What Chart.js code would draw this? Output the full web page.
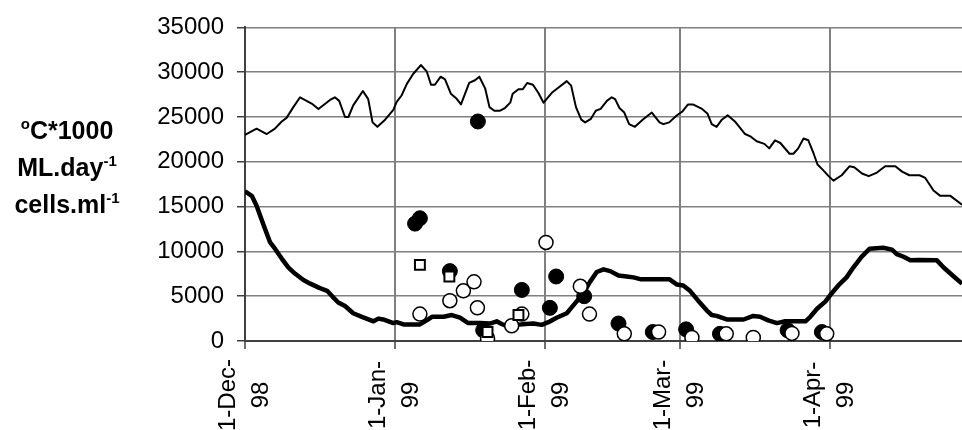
<!DOCTYPE html>
<html>
<head>
<meta charset="utf-8">
<script src="https://cdn.jsdelivr.net/npm/chart.js@4.4.0/dist/chart.umd.min.js"></script>
<style>
  body { margin: 0; background: #fff; }
  #wrap { width: 962px; height: 430px; }
</style>
</head>
<body>
<div id="wrap"><canvas id="chart" width="962" height="430"></canvas></div>
<script>
// x values are days counted from 1-Dec-98
const tickDays = [0, 31, 62, 90, 121];
const tickLabels = [['1-Dec-', '98'], ['1-Jan-', '99'], ['1-Feb-', '99'], ['1-Mar-', '99'], ['1-Apr-', '99']];
const xEnd = 148.4;

// temperature (degC*1000)
const tempDays = [0, 2.4, 4.5, 6.2, 7.6, 8.6, 10.0, 11.4, 13.8, 15.2,
  17.6, 18.6, 19.5, 20.7, 21.4, 22.4, 24.4, 25.5, 26.4, 27.4,
  29.0, 30.7, 31.4, 32.4, 33.5, 34.8, 36.4, 37.6, 38.5, 39.3,
  40.5, 41.4, 42.6, 43.7, 44.7, 46.4, 47.6, 48.5, 49.7, 50.6,
  51.6, 52.8, 53.8, 54.9, 55.4, 56.6, 57.5, 58.4, 59.6, 60.7,
  61.8, 63.5, 64.7, 66.6, 67.5, 68.5, 69.6, 70.4, 71.6, 72.6,
  73.6, 74.9, 75.9, 76.6, 77.5, 78.5, 79.5, 80.7, 82.3, 84.2,
  85.8, 86.6, 87.8, 89.4, 90.5, 91.7, 92.7, 94.6, 95.7, 96.6,
  97.6, 98.7, 99.9, 101.4, 103.5, 104.7, 105.9, 107.5, 108.5, 109.7,
  110.8, 112.7, 113.5, 114.5, 115.6, 116.6, 117.7, 118.5, 119.6, 120.8,
  121.8, 123.5, 125.1, 126.1, 127.7, 129.1, 130.8, 132.5, 134.6, 136.0,
  137.5, 139.6, 140.8, 142.5, 143.9, 146.0, 148.4];
const tempValues = [23000, 23700, 23100, 23700, 24500, 24900, 26100, 27200, 26500, 25900,
  26900, 27200, 26800, 25000, 25000, 26300, 27900, 27000, 24400, 23900,
  24700, 25800, 26700, 27400, 28700, 29800, 30800, 30100, 28600, 28600,
  29500, 29200, 27600, 27100, 26400, 28800, 29100, 29500, 28200, 26100,
  25700, 25700, 26000, 26600, 27600, 28100, 28100, 28800, 28600, 27700,
  26600, 27700, 28200, 29000, 28500, 26100, 24700, 24400, 24800, 25700,
  25900, 26800, 27200, 27000, 26000, 25500, 24200, 23900, 24700, 25500,
  24400, 24200, 24400, 25200, 25600, 26400, 26400, 25900, 25400, 24200,
  23900, 24700, 25200, 24500, 23100, 22800, 22300, 22000, 21500, 22400,
  22100, 20900, 20900, 21500, 22600, 22400, 20900, 19700, 19100, 18400,
  17900, 18500, 19500, 19400, 18700, 18400, 18800, 19500, 19500, 18900,
  18500, 18500, 18200, 16800, 16200, 16200, 15200];

// flow (ML/day)
const flowDays = [0, 1.4, 2.4, 3.8, 5.2, 6.2, 7.6, 9.0, 10.4, 12.1,
  13.5, 15.5, 17.0, 18.2, 19.3, 20.7, 22.4, 24.2, 26.6, 27.6,
  28.6, 30.7, 31.4, 32.8, 36.2, 37.6, 38.7, 41.1, 42.8, 44.5,
  46.2, 48.7, 50.7, 52.1, 53.1, 54.5, 56.3, 58.0, 59.7, 61.4,
  62.8, 64.5, 66.6, 68.0, 70.0, 71.4, 72.8, 74.2, 75.6, 77.3,
  79.0, 80.4, 81.8, 87.8, 89.4, 90.7, 92.1, 93.8, 95.6, 96.6,
  97.6, 99.7, 103.2, 105.2, 106.6, 108.3, 110.1, 111.8, 116.0, 117.0,
  118.4, 120.1, 121.1, 122.8, 124.5, 125.9, 127.6, 129.3, 132.1, 133.9,
  134.9, 136.3, 137.7, 139.4, 143.2, 144.6, 146.7, 148.4];
const flowValues = [16700, 16200, 15100, 13000, 11000, 10300, 9200, 8200, 7500, 6800,
  6400, 5900, 5600, 4900, 4300, 3900, 3100, 2700, 2200, 2500,
  2400, 2000, 2100, 1850, 1850, 2300, 2700, 2700, 2900, 2600,
  2000, 2000, 1950, 2200, 1900, 1600, 1800, 1900, 1950, 1800,
  2100, 2600, 3100, 4000, 5300, 6600, 7700, 8000, 7800, 7300,
  7200, 7100, 6900, 6900, 6300, 6200, 5600, 4500, 3400, 2900,
  2800, 2400, 2400, 2800, 2700, 2300, 2000, 2200, 2200, 2700,
  3600, 4400, 5100, 6200, 7100, 8200, 9400, 10300, 10400, 10200,
  9700, 9400, 9000, 9050, 9000, 8200, 7200, 6400];

// cell counts (cells/ml)
const filledDays = [35.2, 36.2, 42.4, 48.2, 49.3, 57.3, 63.1, 64.4, 70.2, 77.3, 84.4, 91.3, 98.3, 112.3, 119.4];
const filledCells = [13100, 13700, 7800, 24500, 1200, 5700, 3700, 7200, 5000, 1950, 1000, 1300, 800, 1200, 1000];
const openDays = [36.2, 42.4, 45.2, 47.4, 48.1, 50.2, 55.2, 57.3, 62.3, 69.4, 71.3, 78.5, 85.6, 92.5, 99.6, 105.2, 113.2, 120.4];
const openCells = [3000, 4500, 5600, 6600, 3700, 300, 1700, 3000, 11000, 6100, 3000, 800, 1000, 400, 800, 400, 850, 800];
const squareDays = [36.2, 42.3, 50.2, 56.6];
const squareCells = [8500, 7200, 1000, 2900];

const FONT = '"Liberation Sans", Arial, sans-serif';

function pairs(xs, ys) {
  return xs.map((x, i) => ({ x: x, y: ys[i] }));
}

// left-hand unit labels with superscripts
const titleLines = [
  { y: 139, parts: [{ t: 'o', sup: true }, { t: 'C*1000' }] },
  { y: 176, parts: [{ t: 'ML.day' }, { t: '-1', sup: true }] },
  { y: 213, parts: [{ t: 'cells.ml' }, { t: '-1', sup: true }] }
];

function drawRich(ctx, parts, cx, baseline) {
  const big = 'bold 25px ' + FONT;
  const small = 'bold 15px ' + FONT;
  let total = 0;
  parts.forEach(p => {
    ctx.font = p.sup ? small : big;
    p.w = ctx.measureText(p.t).width;
    total += p.w;
  });
  let x = cx - total / 2;
  parts.forEach(p => {
    ctx.font = p.sup ? small : big;
    ctx.fillText(p.t, x, p.sup ? baseline - 10 : baseline);
    x += p.w;
  });
}

const textPlugin = {
  id: 'textPlugin',
  afterDraw(chart) {
    const ctx = chart.ctx;
    const xs = chart.scales.x;
    ctx.save();
    ctx.fillStyle = '#000';

    // rotated two-line date labels, centred on each other
    ctx.font = '24px ' + FONT;
    ctx.textAlign = 'center';
    ctx.textBaseline = 'middle';
    tickDays.forEach((d, i) => {
      const px = xs.getPixelForValue(d);
      ctx.save();
      ctx.translate(px, 395);
      ctx.rotate(-Math.PI / 2);
      ctx.fillText(tickLabels[i][0], 0, -16.5);
      ctx.fillText(tickLabels[i][1], 0, 16.5);
      ctx.restore();
    });

    ctx.textAlign = 'left';
    ctx.textBaseline = 'alphabetic';
    titleLines.forEach(l => drawRich(ctx, l.parts, 67, l.y));
    ctx.restore();
  }
};

new Chart(document.getElementById('chart'), {
  type: 'line',
  data: {
    datasets: [
      {
        label: 'squares',
        data: pairs(squareDays, squareCells),
        showLine: false,
        pointStyle: 'rect',
        pointRadius: 7,
        pointBackgroundColor: '#fff',
        pointBorderColor: '#000',
        pointBorderWidth: 2,
        order: 0
      },
      {
        label: 'open',
        data: pairs(openDays, openCells),
        showLine: false,
        pointStyle: 'circle',
        pointRadius: 7,
        pointBackgroundColor: '#fff',
        pointBorderColor: '#000',
        pointBorderWidth: 1.5,
        order: 1
      },
      {
        label: 'filled',
        data: pairs(filledDays, filledCells),
        showLine: false,
        pointStyle: 'circle',
        pointRadius: 7.5,
        pointBackgroundColor: '#000',
        pointBorderColor: '#000',
        pointBorderWidth: 1,
        order: 2
      },
      {
        label: 'flow',
        data: pairs(flowDays, flowValues),
        borderColor: '#000',
        borderWidth: 4.5,
        pointRadius: 0,
        tension: 0,
        borderJoinStyle: 'round',
        order: 3
      },
      {
        label: 'temp',
        data: pairs(tempDays, tempValues),
        borderColor: '#000',
        borderWidth: 2,
        pointRadius: 0,
        tension: 0,
        borderJoinStyle: 'round',
        order: 4
      }
    ]
  },
  options: {
    responsive: false,
    animation: false,
    layout: { autoPadding: false, padding: { top: 25, right: 0, bottom: 0, left: 0 } },
    plugins: {
      legend: { display: false },
      tooltip: { enabled: false }
    },
    scales: {
      x: {
        type: 'linear',
        min: 0,
        max: xEnd,
        afterBuildTicks: s => { s.ticks = tickDays.map(v => ({ value: v })); },
        ticks: { display: false },
        grid: { color: '#808080', lineWidth: 2, tickLength: 8, tickColor: '#404040', tickWidth: 1.5 },
        border: { color: '#404040', width: 2 },
        afterFit: s => { s.height = 89; }
      },
      y: {
        min: 0,
        max: 35000,
        ticks: {
          stepSize: 5000,
          color: '#000',
          padding: 13,
          font: { family: FONT, size: 24 },
          callback: v => String(v)
        },
        grid: { color: '#808080', lineWidth: 1.5, tickLength: 8, tickColor: '#404040', tickWidth: 1.5 },
        border: { color: '#404040', width: 2 },
        afterFit: s => { s.width = 245; }
      }
    }
  },
  plugins: [textPlugin]
});
</script>
</body>
</html>
